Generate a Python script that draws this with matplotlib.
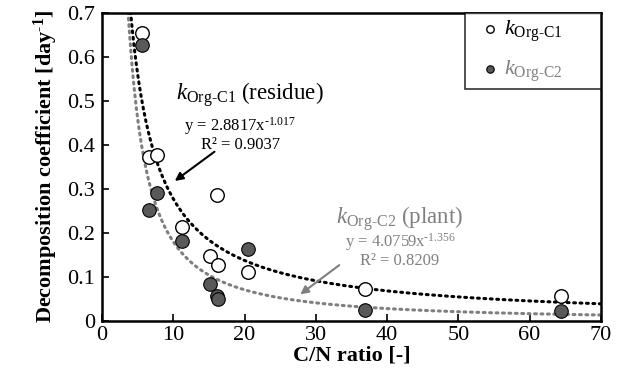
import numpy as np
import matplotlib
matplotlib.use("Agg")
import matplotlib.pyplot as plt

plt.rcParams['font.family'] = ['Liberation Serif', 'DejaVu Serif']
plt.rcParams['mathtext.fontset'] = 'custom'
plt.rcParams['mathtext.rm'] = 'Liberation Serif'
plt.rcParams['mathtext.it'] = 'Liberation Serif:italic'
plt.rcParams['mathtext.bf'] = 'Liberation Serif:bold'

# data
cn_c1 = [5.6, 6.6, 7.7, 16.1, 11.2, 15.2, 16.3, 20.5, 36.9, 64.4]
k_c1 = [0.655, 0.373, 0.377, 0.286, 0.214, 0.147, 0.127, 0.111, 0.071, 0.055]
cn_c2 = [5.6, 7.7, 6.6, 11.2, 20.5, 15.2, 16.1, 16.3, 36.9, 64.4]
k_c2 = [0.628, 0.291, 0.252, 0.182, 0.162, 0.083, 0.055, 0.049, 0.024, 0.021]

fit_c1 = (2.8817, -1.017)
fit_c2 = (4.0759, -1.356)

gray_txt = '#808080'
gray_line = '#7f7f7f'
fill_col = '#595959'

fig = plt.figure(figsize=(6.22, 3.79), dpi=100)
ax = fig.add_axes([0.164, 0.154, 0.802, 0.812])

xx = np.linspace(3.5, 70, 400)
ax.plot(xx, fit_c1[0] * xx ** fit_c1[1], color='black', lw=2.2,
        linestyle=(0, (0.6, 1.5)), dash_capstyle='round', zorder=2)
ax.plot(xx, fit_c2[0] * xx ** fit_c2[1], color=gray_line, lw=2.2,
        linestyle=(0, (0.6, 1.5)), dash_capstyle='round', zorder=2)

ax.scatter(cn_c1, k_c1, s=95, facecolor='white', edgecolor='black', lw=1.0, zorder=3,
           label=r'$k_{\mathrm{Org\text{-}C1}}$')
ax.scatter(cn_c2, k_c2, s=95, facecolor=fill_col, edgecolor='black', lw=0.8, zorder=3,
           label=r'$k_{\mathrm{Org\text{-}C2}}$')

ax.set_xlim(0, 70)
ax.set_ylim(0, 0.7)
ax.set_xticks(range(0, 71, 10))
ax.set_yticks(np.arange(0, 0.71, 0.1))
ax.set_yticklabels(['0', '0.1', '0.2', '0.3', '0.4', '0.5', '0.6', '0.7'])
ax.tick_params(direction='in', length=5, width=1.2, labelsize=16, pad=5)
ax.tick_params(axis='x', pad=4)
for sp in ax.spines.values():
    sp.set_linewidth(1.8)

ax.set_xlabel('C/N ratio [-]', fontsize=16, fontweight='bold', labelpad=0)
ax.set_ylabel(r'Decomposition coefficient [day$^{\mathbf{\text{-}1}}$]', fontsize=16,
              fontweight='bold', labelpad=5)

# annotations
ax.text(20.7, 0.502, r'$k_{\mathrm{Org\text{-}C1}}$ (residue)', fontsize=16.5,
        ha='center', va='baseline')
ax.text(19.4, 0.424, 'y = 2.8817x$^{\\text{-1.017}}$\nR² = 0.9037', fontsize=12,
        ha='center', va='center', multialignment='center', linespacing=0.95)
ax.annotate('', xy=(9.9, 0.314), xytext=(16.1, 0.388),
            arrowprops=dict(arrowstyle='-|>', color='black', lw=1.5,
                            mutation_scale=12))

ax.text(41.8, 0.220, r'$k_{\mathrm{Org\text{-}C2}}$ (plant)', fontsize=16.5,
        ha='center', va='baseline', color=gray_txt)
ax.text(41.8, 0.161, 'y = 4.0759x$^{\\text{-1.356}}$\nR² = 0.8209', fontsize=12,
        ha='center', va='center', multialignment='center', linespacing=0.95,
        color=gray_txt)
ax.annotate('', xy=(27.5, 0.056), xytext=(33.6, 0.130),
            arrowprops=dict(arrowstyle='-|>', color=gray_line, lw=1.5,
                            mutation_scale=12))

leg = ax.legend(loc='upper left', bbox_to_anchor=(0.727, 0.0, 0.273, 1.0),
                mode='expand', fontsize=16, frameon=True, fancybox=False,
                handletextpad=-0.3, handlelength=1.8, borderpad=0.25,
                labelspacing=0.65, markerscale=0.55, borderaxespad=0)
leg.get_frame().set_edgecolor('black')
leg.get_frame().set_linewidth(1.2)
leg.get_texts()[1].set_color(gray_txt)

fig.savefig('out.png', dpi=100)
